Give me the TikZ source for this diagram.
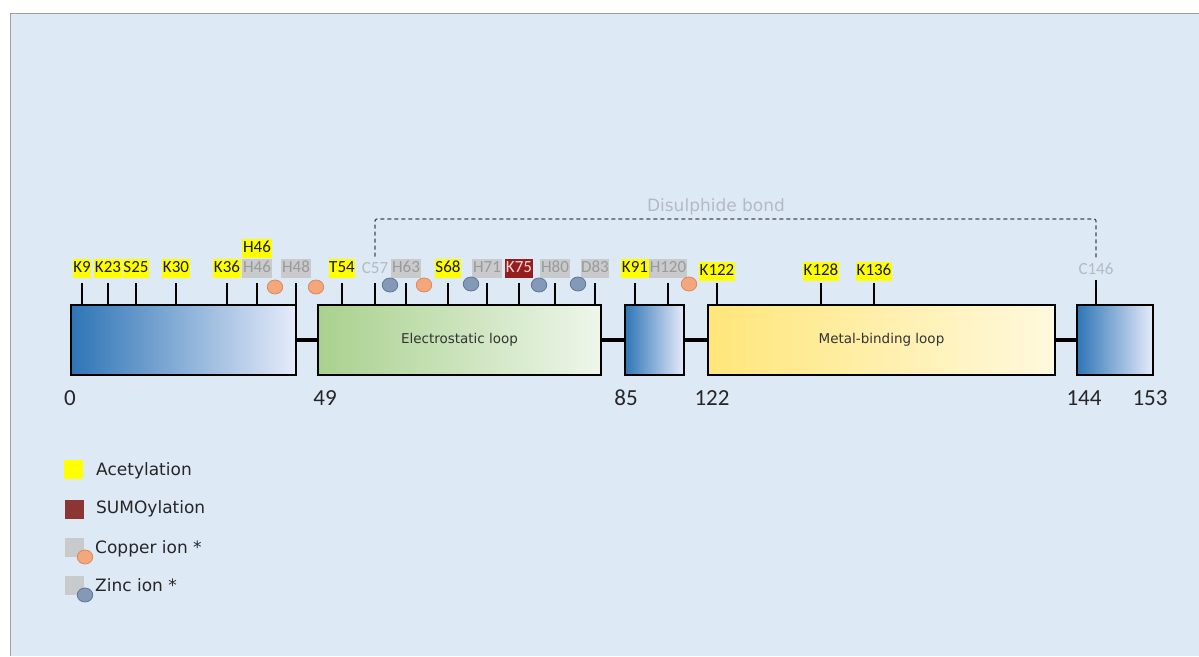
\documentclass[tikz,border=0pt]{standalone}
\usepackage{fontspec}
\setmainfont{Carlito}
\newfontfamily\verdana{DejaVu Sans}
\usepackage{tikz}
\usetikzlibrary{positioning, shapes.geometric}

\definecolor{bgblue}{HTML}{DEE9F6}
\definecolor{framegray}{HTML}{A0A0A0}
\definecolor{acyellow}{HTML}{FFFF00}
\definecolor{sumored}{HTML}{941E1E}
\definecolor{sumokey}{HTML}{8B3535}
\definecolor{ionbox}{HTML}{C9CACC}
\definecolor{iontext}{HTML}{9A9A9A}
\definecolor{cystext}{HTML}{B4BAC4}
\definecolor{copper}{HTML}{F4A77C}
\definecolor{copperedge}{HTML}{D98A5C}
\definecolor{zinc}{HTML}{8499B8}
\definecolor{zincedge}{HTML}{5F7597}
\definecolor{domblue}{HTML}{2E75B6}
\definecolor{dommid}{HTML}{BCD0F0}
\definecolor{domlight}{HTML}{E6EBFA}
\definecolor{domgreen}{HTML}{A9D18E}
\definecolor{greenlight}{HTML}{EEF6EA}
\definecolor{domyellow}{HTML}{FFE67A}
\definecolor{yellowlight}{HTML}{FFF9DE}

\begin{document}
\begin{tikzpicture}[x=1pt, y=-1pt,
  dom/.style={draw, line width=2.3pt, minimum height=70pt, inner sep=0pt,
    font=\verdana\fontsize{13.5}{16}\selectfont, text=black!80},
  linker/.style={line width=3.4pt},
  tick/.style={line width=2pt},
  num/.style={font=\fontsize{23}{26}\selectfont, text=black!85, inner sep=0pt},
  site/.style={anchor=south, inner xsep=0.6pt, inner ysep=2pt, text height=11.5pt,
    text depth=3.5pt, font=\fontsize{17}{19}\selectfont},
  acet/.style={site, fill=acyellow, text=black!90},
  ion/.style={site, fill=ionbox, text=iontext},
  sumo/.style={site, fill=sumored, text=red!15},
  cys/.style={site, text=cystext},
  ionball/.style={ellipse, minimum width=15.5pt, minimum height=14pt, inner sep=0pt,
    line width=0.8pt},
  copperion/.style={ionball, fill=copper, draw=copperedge},
  zincion/.style={ionball, fill=zinc, draw=zincedge},
  ssbond/.style={black!70, line width=1.2pt, dash pattern=on 4pt off 3pt,
    rounded corners=2pt},
  legkey/.style={minimum width=19pt, minimum height=19pt, inner sep=0pt},
  legtext/.style={anchor=west, inner sep=0pt, font=\verdana\fontsize{17}{20}\selectfont,
    text=black!85}]

\useasboundingbox (0,0) rectangle (1199,656);
\fill[bgblue] (10,13) rectangle (1199,656);
\draw[framegray, line width=1pt] (10,656) -- (10,13) -- (1199,13);

% domains
\node[dom, left color=domblue, middle color=dommid, right color=domlight,
  minimum width=225pt] (n1) at (183.5,340) {};
\node[dom, left color=domgreen, right color=greenlight,
  minimum width=283pt] (n2) at (459.5,340) {Electrostatic loop};
\node[dom, left color=domblue, middle color=dommid, right color=domlight,
  minimum width=59pt] (n3) at (654.5,340) {};
\node[dom, left color=domyellow, right color=yellowlight,
  minimum width=347pt] (n4) at (881.5,340) {Metal-binding loop};
\node[dom, left color=domblue, middle color=dommid, right color=domlight,
  minimum width=76pt] (n5) at (1115,340) {};

\draw[linker] (n1.east) -- (n2.west);
\draw[linker] (n2.east) -- (n3.west);
\draw[linker] (n3.east) -- (n4.west);
\draw[linker] (n4.east) -- (n5.west);

% residue numbers
\node[num] (p0) at (70,398) {0};
\node[num] (p49) at (325,398) {49};
\node[num] (p85) at (626,398) {85};
\node[num] (p122) at (712,398) {122};
\node[num] (p144) at (1084,398) {144};
\node[num] (p153) at (1150,398) {153};

% sites
\node[acet] (k9) at (82,278) {K9};
\node[acet] (k23) at (108,278) {K23};
\node[acet] (s25) at (136,278) {S25};
\node[acet] (k30) at (176,278) {K30};
\node[acet] (k36) at (227,278) {K36};
\node[ion] (h46) at (257,278) {H46};
\node[acet, above=0pt of h46] (h46b) {H46};
\node[ion] (h48) at (296,278) {H48};
\node[acet] (t54) at (342,278) {T54};
\node[cys] (c57) at (375,279) {C57};
\node[ion] (h63) at (406,278) {H63};
\node[acet] (s68) at (448,278) {S68};
\node[ion] (h71) at (487,278) {H71};
\node[sumo] (k75) at (519,278) {K75};
\node[ion] (h80) at (555,278) {H80};
\node[ion] (d83) at (595,278) {D83};
\node[acet] (k91) at (635,278) {K91};
\node[ion] (h120) at (668,278) {H120};
\node[acet] (k122) at (717,281) {K122};
\node[acet] (k128) at (821,281) {K128};
\node[acet] (k136) at (874,281) {K136};
\node[cys] (c146) at (1096,280) {C146};

\coordinate (ticktop) at (0,283);
\draw[tick] (k9.south |- ticktop) -- (k9.south |- n1.north);
\draw[tick] (k23.south |- ticktop) -- (k23.south |- n1.north);
\draw[tick] (s25.south |- ticktop) -- (s25.south |- n1.north);
\draw[tick] (k30.south |- ticktop) -- (k30.south |- n1.north);
\draw[tick] (k36.south |- ticktop) -- (k36.south |- n1.north);
\draw[tick] (h46.south |- ticktop) -- (h46.south |- n1.north);
\draw[tick] (h48.south |- ticktop) -- (h48.south |- n1.north);
\draw[tick] (t54.south |- ticktop) -- (t54.south |- n2.north);
\draw[tick] (c57.south |- ticktop) -- (c57.south |- n2.north);
\draw[tick] (h63.south |- ticktop) -- (h63.south |- n2.north);
\draw[tick] (s68.south |- ticktop) -- (s68.south |- n2.north);
\draw[tick] (h71.south |- ticktop) -- (h71.south |- n2.north);
\draw[tick] (k75.south |- ticktop) -- (k75.south |- n2.north);
\draw[tick] (h80.south |- ticktop) -- (h80.south |- n2.north);
\draw[tick] (d83.south |- ticktop) -- (d83.south |- n2.north);
\draw[tick] (k91.south |- ticktop) -- (k91.south |- n3.north);
\draw[tick] (h120.south |- ticktop) -- (h120.south |- n3.north);
\draw[tick] (k122.south |- ticktop) -- (k122.south |- n4.north);
\draw[tick] (k128.south |- ticktop) -- (k128.south |- n4.north);
\draw[tick] (k136.south |- ticktop) -- (k136.south |- n4.north);
\draw[tick] (c146.south) -- (c146.south |- n5.north);

% metal ions
\node[copperion] (cu1) at (275,287) {};
\node[copperion] (cu2) at (316,287) {};
\node[zincion] (zn1) at (390,285) {};
\node[copperion] (cu3) at (424,285) {};
\node[zincion] (zn2) at (471,284) {};
\node[zincion] (zn3) at (539,285) {};
\node[zincion] (zn4) at (578,284) {};
\node[copperion] (cu4) at (689,284) {};

% disulphide bond
\coordinate (ssline) at (0,219);
\draw[ssbond] ([yshift=3pt]c57.north) -- (c57.north |- ssline)
  -- (c146.north |- ssline) -- ([yshift=3pt]c146.north);
\node[inner sep=0pt, font=\verdana\fontsize{17}{20}\selectfont, text=cystext]
  (ssname) at (716,207) {Disulphide bond};

% legend
\node[legkey, fill=acyellow] (keyac) at (73.5,469) {};
\node[legtext] (txtac) at (96,471) {Acetylation};
\node[legkey, fill=sumokey] (keysumo) at (74,509) {};
\node[legtext] (txtsumo) at (96,509) {SUMOylation};
\node[legkey, fill=ionbox] (keycu) at (74,547.5) {};
\node[copperion] (keycuball) at (85,557) {};
\node[legtext] (txtcu) at (95,549) {Copper ion *};
\node[legkey, fill=ionbox] (keyzn) at (74,585) {};
\node[zincion] (keyznball) at (85,595) {};
\node[legtext] (txtzn) at (95,585) {Zinc ion *};

\end{tikzpicture}
\end{document}
